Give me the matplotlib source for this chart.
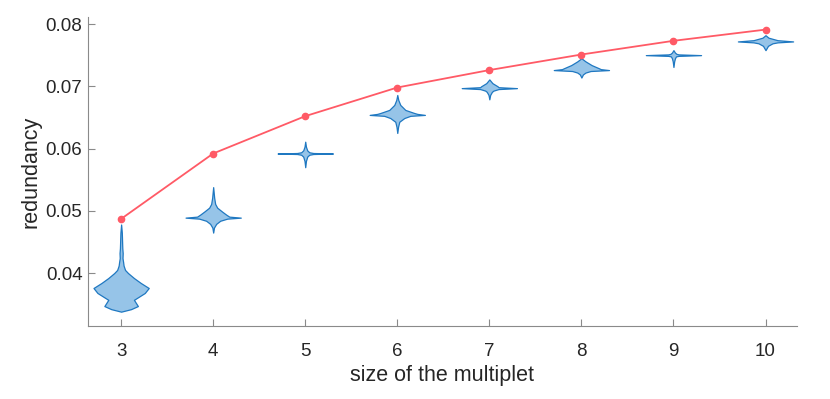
import numpy as np
import matplotlib.pyplot as plt

plt.rcParams['font.family'] = ['Liberation Sans', 'DejaVu Sans']

sizes = [3, 4, 5, 6, 7, 8, 9, 10]
max_redundancy = [0.0487, 0.0592, 0.0652, 0.0698, 0.0726, 0.0751, 0.0773, 0.0791]

# violin outlines: redundancy levels and relative density
v3_y = [0.0338, 0.0342, 0.0347, 0.0352, 0.0357, 0.0362, 0.0368, 0.0376, 0.0384, 0.0392,
        0.0400, 0.0405, 0.0412, 0.0418, 0.0424, 0.0432, 0.0440, 0.0450, 0.0465, 0.0478]
v3_d = [0, 10, 17, 15, 13, 18, 24, 28, 20, 13, 7, 4, 2.5, 2.0, 1.4, 1.6, 1.2, 1.0, 0.7, 0]
v4_y = [0.0465, 0.0473, 0.0479, 0.0484, 0.04874, 0.0489, 0.04906, 0.04938, 0.04986,
        0.0505, 0.0511, 0.0521, 0.0538]
v4_d = [0, 0.8, 3, 7, 14, 27.5, 16, 13, 9, 4, 2, 1, 0]
v5_y = [0.0570, 0.0580, 0.0587, 0.0590, 0.05912, 0.0592, 0.05928, 0.0594, 0.0597, 0.0603, 0.0611]
v5_d = [0, 0.7, 2, 4, 8, 27.5, 8, 4, 2, 0.7, 0]
v6_y = [0.0625, 0.0635, 0.0643, 0.0649, 0.06525, 0.0654, 0.06556, 0.0657, 0.0662,
        0.0670, 0.0678, 0.0686]
v6_d = [0, 0.8, 2, 7, 13, 27.5, 20, 17, 8, 3, 1, 0]
v7_y = [0.0679, 0.0686, 0.0691, 0.0693, 0.06955, 0.0697, 0.06985, 0.0700, 0.0705, 0.0711]
v7_d = [0, 0.8, 2.5, 4, 9, 27, 9, 8, 3, 0]
v8_y = [0.0714, 0.0719, 0.0722, 0.07245, 0.0726, 0.07275, 0.0729, 0.0734, 0.0740, 0.0745]
v8_d = [0, 1.5, 4, 9, 27, 19, 17, 10, 4, 0]
v9_y = [0.0731, 0.0740, 0.0745, 0.0748, 0.07488, 0.0750, 0.07512, 0.0752, 0.0754, 0.0758]
v9_d = [0, 0.7, 1.5, 2.5, 5, 27, 5, 3, 1.5, 0]
v10_y = [0.0758, 0.0765, 0.0769, 0.07705, 0.0772, 0.07735, 0.0774, 0.0778, 0.0782]
v10_d = [0, 2.5, 7, 12, 27.5, 16, 12, 3, 0]

profiles = [(v3_y, v3_d), (v4_y, v4_d), (v5_y, v5_d), (v6_y, v6_d),
            (v7_y, v7_d), (v8_y, v8_d), (v9_y, v9_d), (v10_y, v10_d)]

vpstats = []
for ys, ds in profiles:
    ys = np.array(ys)
    ds = np.array(ds, dtype=float)
    mid = ys[np.argmax(ds)]
    vpstats.append(dict(coords=ys, vals=ds, mean=mid, median=mid,
                        min=ys.min(), max=ys.max()))

fig, ax = plt.subplots(figsize=(8.3, 3.99), dpi=100)
fig.subplots_adjust(left=0.106, right=0.960, bottom=0.183, top=0.957)

parts = ax.violin(vpstats, positions=sizes, widths=0.6,
                  showmeans=False, showextrema=False, showmedians=False)
for body in parts['bodies']:
    body.set_facecolor('#96c4e8')
    body.set_edgecolor('#1f78c1')
    body.set_linewidth(0.9)
    body.set_alpha(1)

ax.plot(sizes, max_redundancy, '-o', color='#ff5a66', lw=1.3, ms=4.5, zorder=5)

ax.set_xlim(2.64, 10.34)
ax.set_ylim(0.0315, 0.0811)
ax.set_xticks(sizes)
ax.set_yticks([0.04, 0.05, 0.06, 0.07, 0.08])
ax.set_yticklabels(['0.04', '0.05', '0.06', '0.07', '0.08'])

for side in ['top', 'right']:
    ax.spines[side].set_visible(False)
for side in ['left', 'bottom']:
    ax.spines[side].set_color('#8a8a8a')
    ax.spines[side].set_linewidth(0.8)
ax.tick_params(direction='in', length=5, width=0.8, color='#8a8a8a',
               labelsize=13.5, labelcolor='#262626')
ax.tick_params(axis='x', pad=12)
ax.tick_params(axis='y', pad=4)

ax.set_xlabel('size of the multiplet', fontsize=15.5, color='#262626', labelpad=4)
ax.set_ylabel('redundancy', fontsize=15.5, color='#262626', labelpad=3)

plt.savefig('out.png')
